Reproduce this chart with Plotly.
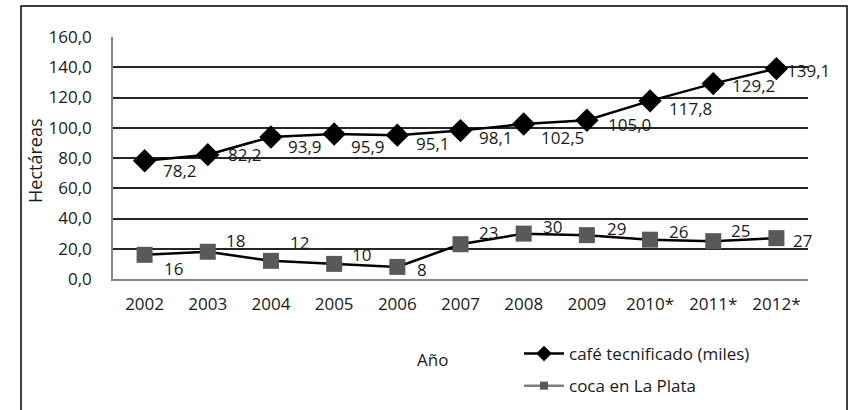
import plotly.graph_objects as go

# Years on the category axis (asterisk = projected)
years = ["2002", "2003", "2004", "2005", "2006", "2007", "2008",
         "2009", "2010*", "2011*", "2012*"]

# Technified coffee area (thousands of hectares)
cafe = [78.2, 82.2, 93.9, 95.9, 95.1, 98.1, 102.5, 105.0, 117.8, 129.2, 139.1]

# Coca area in La Plata (hectares)
coca = [16, 18, 12, 10, 8, 23, 30, 29, 26, 25, 27]

y_ticks = [0, 20, 40, 60, 80, 100, 120, 140, 160]

# Value-label nudges in pixels (right, down) from each point
cafe_nudge = [(17, 10), (19, 0), (16, 10), (16, 13), (18, 8), (17, 7),
              (16, 14), (20, 4), (18, 8), (18, 2), (10, 2)]
coca_nudge = [(18, 14), (17, -11), (18, -18), (17, -9), (19, 3), (17, -12),
              (18, -7), (19, -7), (18, -8), (17, -11), (16, 2)]

FONT = "Open Sans"
FS = 17
TXT = "#1a1a1a"
W, H = 855, 410
L, R, T, B = 113, 47, 37, 131
pw, ph = W - L - R, H - T - B


def px_x(x):
    return (x - L) / pw


def px_y(y):
    return (H - B - y) / ph


def fnt(size=FS):
    return dict(family=FONT, size=size, color=TXT)


fig = go.Figure()

fig.add_trace(go.Scatter(
    x=years, y=cafe, mode="lines+markers",
    line=dict(color="black", width=2.5),
    marker=dict(symbol="diamond", size=18, color="black"),
    showlegend=False, cliponaxis=False,
))

fig.add_trace(go.Scatter(
    x=years, y=coca, mode="lines+markers",
    line=dict(color="black", width=2.5),
    marker=dict(symbol="square", size=16, color="#595959"),
    showlegend=False, cliponaxis=False,
))

# Legend entries
fig.add_trace(go.Scatter(
    x=[None], y=[None], mode="lines+markers", name="café tecnificado (miles)",
    line=dict(color="black", width=2.5),
    marker=dict(symbol="diamond", size=12, color="black"),
    legendgroup="a",
))
fig.add_trace(go.Scatter(
    x=[None], y=[None], mode="lines+markers", name="coca en La Plata",
    line=dict(color="#7f7f7f", width=2.5),
    marker=dict(symbol="square", size=8, color="#595959"),
    legendgroup="b",
))

# Data labels anchored at each point (category index on x)
labels = []
for i, (v, (dx, dy)) in enumerate(zip(cafe, cafe_nudge)):
    labels.append(dict(x=i, y=v, text=f"{v:.1f}".replace(".", ","),
                       xanchor="left", yanchor="middle", xshift=dx, yshift=-dy,
                       showarrow=False, font=fnt(), borderpad=0))
for i, (v, (dx, dy)) in enumerate(zip(coca, coca_nudge)):
    labels.append(dict(x=i, y=v, text=str(v),
                       xanchor="left", yanchor="middle", xshift=dx, yshift=-dy,
                       showarrow=False, font=fnt(), borderpad=0))

fig.update_layout(
    width=W, height=H,
    margin=dict(l=L, r=R, t=T, b=B, autoexpand=False),
    paper_bgcolor="white", plot_bgcolor="white",
    separators=",.",
    font=fnt(),
    xaxis=dict(
        type="category", categoryorder="array", categoryarray=years,
        range=[-0.5, len(years) - 0.5],
        showgrid=False, showline=True, linecolor="#868686", linewidth=1.5,
        ticks="", ticklabelstandoff=9, tickfont=fnt(),
    ),
    yaxis=dict(
        range=[0, 160], tickvals=y_ticks, tickformat=".1f",
        showgrid=True, gridcolor="#262626", gridwidth=1.5,
        showline=True, linecolor="#868686", linewidth=1.5,
        zeroline=False, ticks="", ticklabelstandoff=16, tickfont=fnt(),
    ),
    legend=dict(
        x=px_x(519), y=px_y(336), xanchor="left", yanchor="top",
        bgcolor="rgba(0,0,0,0)", traceorder="grouped", tracegroupgap=7,
        font=fnt(), itemwidth=40,
    ),
    annotations=labels + [
        dict(text="Año", x=px_x(432), y=px_y(359), xref="paper", yref="paper",
             xanchor="center", yanchor="middle", showarrow=False, font=fnt()),
        dict(text="Hectáreas", x=px_x(35), y=px_y(161), xref="paper", yref="paper",
             xanchor="center", yanchor="middle", textangle=-90, showarrow=False,
             font=fnt(18)),
    ],
    shapes=[
        dict(type="rect", xref="paper", yref="paper",
             x0=px_x(21), x1=px_x(847), y0=px_y(6), y1=px_y(430),
             line=dict(color="black", width=1.5), layer="below"),
    ],
)

fig.write_html("out.html")
